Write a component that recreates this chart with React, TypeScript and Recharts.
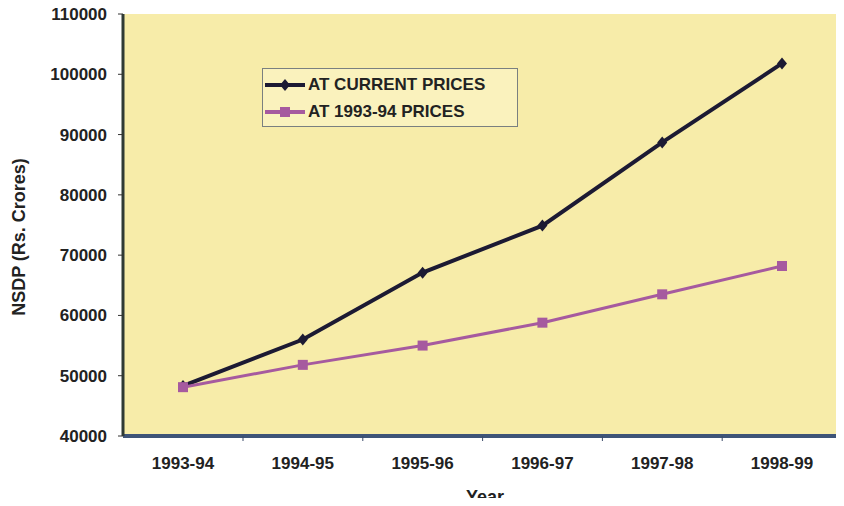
import React from "react";
import {
  CartesianGrid,
  Legend,
  Line,
  LineChart,
  XAxis,
  YAxis,
} from "recharts";

const YEARS = ["1993-94", "1994-95", "1995-96", "1996-97", "1997-98", "1998-99"];
const CURRENT_PRICES = [48300, 56000, 67100, 74900, 88700, 101800];
const CONSTANT_PRICES = [48100, 51800, 55000, 58800, 63500, 68200];
const Y_TICKS = [40000, 50000, 60000, 70000, 80000, 90000, 100000, 110000];

const CURRENT_LABEL = "AT CURRENT PRICES";
const CONSTANT_LABEL = "AT 1993-94 PRICES";

const DARK = "#1c1a33";
const PURPLE = "#a65a9f";
const FONT = "'Liberation Sans', Arial, sans-serif";

const data = YEARS.map((year, i) => ({
  year,
  current: CURRENT_PRICES[i],
  constant: CONSTANT_PRICES[i],
}));

function Diamond(props: any) {
  const { cx, cy } = props;
  if (cx == null || cy == null) return null;
  return (
    <path
      d={`M${cx},${cy - 6}L${cx + 5},${cy}L${cx},${cy + 6}L${cx - 5},${cy}Z`}
      fill={DARK}
    />
  );
}

function Square(props: any) {
  const { cx, cy } = props;
  if (cx == null || cy == null) return null;
  return <rect x={cx - 5} y={cy - 5} width={10} height={10} fill={PURPLE} />;
}

function XTick(props: any) {
  const { x, y, payload } = props;
  return (
    <g>
      <line x1={x + 60} y1={y - 8} x2={x + 60} y2={y - 3} stroke="#3b4a6b" />
      <text
        x={x}
        y={y + 25}
        textAnchor="middle"
        fontFamily={FONT}
        fontSize={17}
        fontWeight="bold"
        fill="#222"
      >
        {payload.value}
      </text>
    </g>
  );
}

function YLabel() {
  return (
    <text
      x={19}
      y={237}
      transform="rotate(-90, 19, 237)"
      textAnchor="middle"
      dominantBaseline="central"
      fontFamily={FONT}
      fontSize={18}
      fontWeight="bold"
      fill="#222"
    >
      NSDP (Rs. Crores)
    </text>
  );
}

function XLabel() {
  return (
    <text
      x={485}
      y={503}
      textAnchor="middle"
      fontFamily={FONT}
      fontSize={18}
      fontWeight="bold"
      fill="#222"
    >
      Year
    </text>
  );
}

function LegendBox() {
  const rows = [
    { label: CURRENT_LABEL, color: DARK, shape: "diamond" },
    { label: CONSTANT_LABEL, color: PURPLE, shape: "square" },
  ];
  return (
    <div
      style={{
        boxSizing: "border-box",
        border: "1px solid #7a8080",
        background: "#faf2bd",
        padding: "2px 4px 2px 1px",
        fontFamily: FONT,
        fontSize: 17,
        fontWeight: "bold",
        color: "#222",
        width: 256,
        height: 59,
      }}
    >
      {rows.map((r) => (
        <div
          key={r.label}
          style={{ display: "flex", alignItems: "center", height: 27 }}
        >
          <svg width={42} height={14} style={{ marginRight: 2 }}>
            <line x1={1} y1={7} x2={41} y2={7} stroke={r.color} strokeWidth={4} />
            {r.shape === "diamond" ? (
              <path d="M21,1L26,7L21,13L16,7Z" fill={r.color} />
            ) : (
              <rect x={16} y={2} width={10} height={10} fill={r.color} />
            )}
          </svg>
          <span>{r.label}</span>
        </div>
      ))}
    </div>
  );
}

export default function App() {
  return (
    <div style={{ margin: -8, width: 844, height: 506, background: "#fff" }}>
      <LineChart
        width={844}
        height={506}
        data={data}
        margin={{ top: 14, right: 2, left: 0, bottom: 0 }}
      >
        <CartesianGrid
          horizontal={false}
          vertical={false}
          fill="#f7eca9"
          fillOpacity={1}
        />
        <XAxis
          dataKey="year"
          height={70}
          padding={{ left: 60, right: 60 }}
          tick={<XTick />}
          tickLine={false}
          axisLine={{ stroke: "#3e5478", strokeWidth: 4 }}
          label={{ content: <XLabel /> }}
        />
        <XAxis
          xAxisId="top"
          dataKey="year"
          orientation="top"
          height={0}
          tick={false}
          tickLine={false}
          axisLine={{ stroke: "#4d5a58", strokeWidth: 2 }}
        />
        <YAxis
          width={123}
          domain={[40000, 110000]}
          ticks={Y_TICKS}
          interval={0}
          tickSize={5}
          tickMargin={11}
          tickLine={{ stroke: "#333" }}
          axisLine={{ stroke: "#2f3a35", strokeWidth: 3 }}
          tick={{
            fontFamily: FONT,
            fontSize: 17,
            fontWeight: "bold",
            fill: "#222",
          }}
          label={{ content: <YLabel /> }}
        />
        <YAxis
          yAxisId="right"
          orientation="right"
          width={0}
          domain={[40000, 110000]}
          tick={false}
          tickLine={false}
          axisLine={{ stroke: "#4d5a58", strokeWidth: 2 }}
        />
        <Legend
          content={<LegendBox />}
          layout="horizontal"
          verticalAlign="middle"
          align="center"
          wrapperStyle={{ left: 262, top: 68, width: "auto" }}
        />
        <Line
          dataKey="current"
          name={CURRENT_LABEL}
          stroke={DARK}
          strokeWidth={4}
          dot={<Diamond />}
          activeDot={false}
          isAnimationActive={false}
        />
        <Line
          dataKey="constant"
          name={CONSTANT_LABEL}
          stroke={PURPLE}
          strokeWidth={3}
          dot={<Square />}
          activeDot={false}
          isAnimationActive={false}
        />
      </LineChart>
    </div>
  );
}
